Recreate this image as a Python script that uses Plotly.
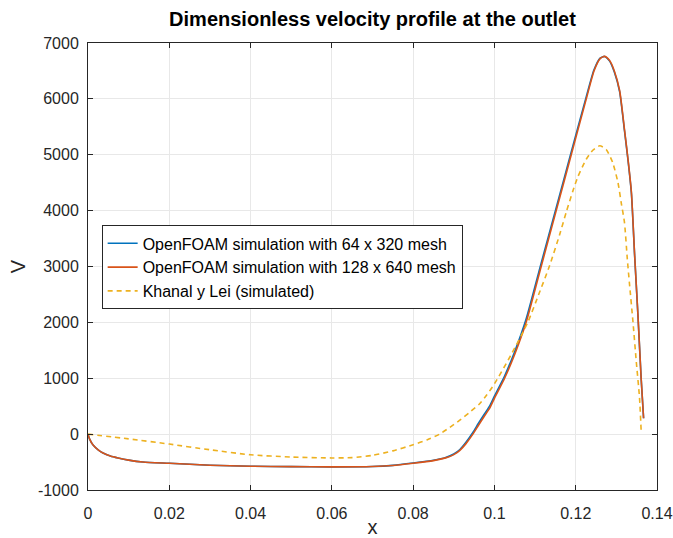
import plotly.graph_objects as go

# OpenFOAM 128 x 640 mesh
x_fine = [0, 0.0004, 0.0012, 0.0025, 0.0037, 0.0055, 0.0074, 0.010, 0.0135, 0.02, 0.03, 0.04, 0.05,
          0.06, 0.07, 0.075, 0.08, 0.085, 0.088, 0.09, 0.0915, 0.093, 0.0947, 0.096, 0.0975, 0.0988,
          0.1, 0.1025, 0.105, 0.1078, 0.1115, 0.1152, 0.1189, 0.1226, 0.1245, 0.126, 0.1271, 0.1283,
          0.1295, 0.1308, 0.1320, 0.1329, 0.1337, 0.1345, 0.1353, 0.1361, 0.1367]
v_fine = [0, -90, -190, -280, -337, -390, -426, -465, -500, -522, -556, -574, -582,
          -586, -580, -562, -522, -474, -425, -367, -290, -170, 0, 150, 320, 460,
          640, 1000, 1430, 2000, 3000, 4000, 5000, 6000, 6500, 6720, 6760, 6690,
          6500, 6150, 5450, 4900, 4330, 3200, 2150, 1000, 283]

# OpenFOAM 64 x 320 mesh
x_coarse = x_fine
v_coarse = [0, -90, -190, -280, -337, -390, -426, -465, -500, -522, -556, -574, -582,
            -586, -580, -560, -518, -468, -418, -355, -275, -145, 30, 185, 355, 500,
            680, 1040, 1480, 2060, 3060, 4050, 5050, 6040, 6520, 6730, 6760, 6680,
            6480, 6130, 5430, 4880, 4310, 3190, 2140, 995, 283]

# Khanal y Lei (simulated)
x_khanal = [0, 0.01, 0.02, 0.03, 0.04, 0.05, 0.06, 0.065, 0.07, 0.075, 0.08, 0.0835, 0.0865,
            0.089, 0.0914, 0.0939, 0.0963, 0.098, 0.1, 0.1041, 0.1082, 0.1110, 0.1135, 0.1160, 0.1177,
            0.1193, 0.1205, 0.1226, 0.1242, 0.1259, 0.1275, 0.1291, 0.1304, 0.1312, 0.1320,
            0.1327, 0.1332, 0.1341, 0.1349, 0.1357, 0.1361]
v_khanal = [0, -85, -178, -280, -370, -410, -426, -420, -380, -300, -190, -100, 0,
            120, 245, 390, 540, 690, 900, 1420, 2000, 2520, 3000, 3560, 3980,
            4350, 4600, 4920, 5080, 5160, 5095, 4860, 4500, 4140, 3785,
            3130, 2715, 2000, 1300, 650, 60]

x_ticks = [0, 0.02, 0.04, 0.06, 0.08, 0.1, 0.12, 0.14]
y_ticks = [-1000, 0, 1000, 2000, 3000, 4000, 5000, 6000, 7000]
y_tick_labels = [str(v) for v in y_ticks]

FONT = "Liberation Sans, Arial, Helvetica, sans-serif"

fig = go.Figure()
fig.add_trace(go.Scatter(x=x_coarse, y=v_coarse, mode="lines",
                         name="OpenFOAM simulation with 64 x 320 mesh",
                         line=dict(color="#0072BD", width=1.6, shape="spline", smoothing=0.6)))
fig.add_trace(go.Scatter(x=x_fine, y=v_fine, mode="lines",
                         name="OpenFOAM simulation with 128 x 640 mesh",
                         line=dict(color="#D95319", width=1.6, shape="spline", smoothing=0.6)))
fig.add_trace(go.Scatter(x=x_khanal, y=v_khanal, mode="lines",
                         name="Khanal y Lei (simulated)",
                         line=dict(color="#EDB120", width=1.6, dash="5px,4px", shape="spline", smoothing=0.6)))

axis_common = dict(
    showgrid=True, gridcolor="#e8e8e8", gridwidth=1,
    showline=True, linecolor="#262626", linewidth=1, mirror="ticks",
    ticks="inside", ticklen=5, tickcolor="#262626",
    zeroline=False, automargin=False,
    tickfont=dict(family=FONT, size=16, color="#262626"),
)

fig.update_layout(
    width=673, height=538,
    margin=dict(l=88, r=16, t=43, b=48),
    paper_bgcolor="white", plot_bgcolor="white",
    title=dict(text="<b>Dimensionless velocity profile at the outlet</b>",
               x=0.5, xref="paper", xanchor="center",
               y=1 - 19 / 538, yref="container", yanchor="middle",
               font=dict(family=FONT, size=20, color="black")),
    xaxis=dict(range=[0, 0.14], tickvals=x_ticks, ticklabelstandoff=9,
               title=dict(text="x", font=dict(family=FONT, size=20, color="#262626"), standoff=4),
               **axis_common),
    yaxis=dict(range=[-1000, 7000], tickvals=y_ticks, ticktext=y_tick_labels, ticklabelstandoff=5,
               title=dict(text="V", font=dict(family=FONT, size=20, color="#262626"), standoff=6),
               **axis_common),
    legend=dict(x=0.024, y=0.592, xanchor="left", yanchor="top",
                bgcolor="white", bordercolor="#262626", borderwidth=1,
                font=dict(family=FONT, size=16, color="black"),
                tracegroupgap=0, itemwidth=30),
    showlegend=True,
)

fig.write_html("out.html")
